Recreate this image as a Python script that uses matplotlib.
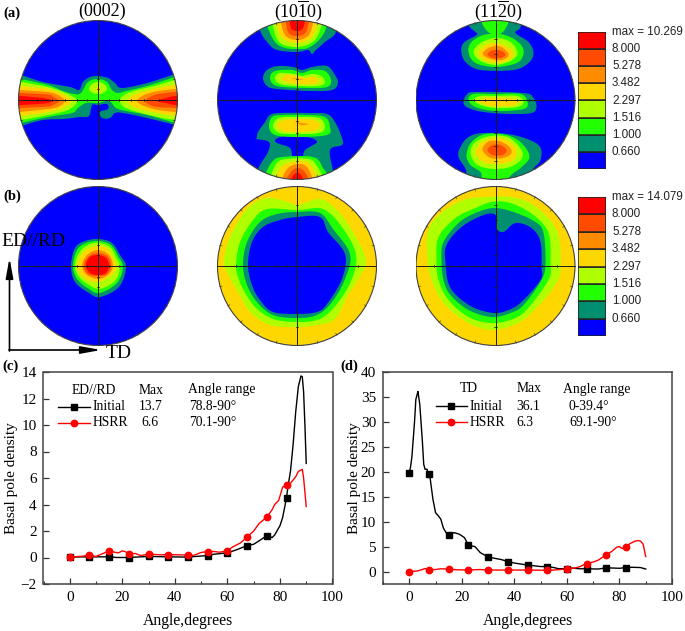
import numpy as np
import matplotlib
matplotlib.use('Agg')
import matplotlib.pyplot as plt
from matplotlib.patches import Circle

plt.rcParams['font.family'] = 'Liberation Serif'
plt.rcParams['mathtext.fontset'] = 'custom'
plt.rcParams['mathtext.rm'] = 'Liberation Serif'

W, H = 685, 631

# contour colours, lowest to highest
BLUE, TEAL, GREEN, YG, GOLD, ORANGE, REDOR, RED = ('#0000ff', '#009070', '#22ff00', '#b0ff00',
                                                   '#ffd700', '#ff8c00', '#ff4b00', '#ff0000')
bar_colors = [RED, REDOR, ORANGE, GOLD, YG, GREEN, TEAL, BLUE]
bar_labels_a = ['max = 10.269', '8.000', '5.278', '3.482', '2.297', '1.516', '1.000', '0.660']
bar_labels_b = ['max = 14.079', '8.000', '5.278', '3.482', '2.297', '1.516', '1.000', '0.660']

# pole figure contours, disc radius = 80
a1_regions = [
    (TEAL, [(-90, 28), (-77, 25), (-55, 18), (-28, 13), (-19, 10), (-15, 18), (-8, 23), (0, 24), (10, 22), (17, 17),
            (24, 12), (49, 17), (77, 26), (90, 30), (90, -30), (77, -25), (49, -18), (25, -13), (17, -13), (12, -18),
            (4, -18), (2, -12), (10, -9), (9, -4), (0, -5), (-6, -5), (-9, -16), (-18, -17), (-35, -19), (-55, -20),
            (-77, -26), (-90, -30)]),
    (GREEN, [(-90, 24), (-77, 21), (-50, 15), (-35, 9), (-24, 6), (-17, 7), (-10, 18), (0, 21), (9, 18), (14, 10),
             (20, 7), (28, 9), (49, 14), (77, 23), (90, 26), (90, -27), (77, -23), (49, -15), (28, -11), (18, -8),
             (11, -1), (0, -3), (-12, -3), (-20, -8), (-26, -13), (-50, -17), (-77, -23), (-90, -26)]),
    (YG, [(-90, 20), (-77, 18), (-50, 13), (-30, 6), (-21, -1), (-30, -10), (-50, -15), (-77, -20), (-90, -22)]),
    (YG, [(90, 22), (77, 20), (60, 15), (30, 7), (22, -1), (30, -9), (60, -17), (77, -20), (90, -22)]),
    (YG, [(-9, 11), (-6, 16), (0, 18), (6, 16), (9, 11), (5, 7), (0, 6), (-5, 7)]),
    (GOLD, [(-90, 16), (-77, 14), (-50, 11), (-35, 6), (-27, -1), (-35, -8), (-50, -12), (-77, -16), (-90, -18)]),
    (GOLD, [(90, 17), (77, 15), (60, 12), (38, 6), (30, -1), (38, -8), (60, -13), (77, -16), (90, -18)]),
    (GOLD, [(-3, 11), (0, 13), (3, 11), (0, 9)]),
    (ORANGE, [(-90, 12), (-77, 10), (-50, 8), (-40, 5), (-33, -1), (-40, -7), (-50, -9), (-77, -12), (-90, -14)]),
    (ORANGE, [(90, 13), (77, 11), (60, 9), (46, 5), (39, -1), (46, -6), (60, -10), (77, -12), (90, -14)]),
    (REDOR, [(-90, 8), (-77, 7), (-50, 5.5), (-45, 3.5), (-39, -1), (-45, -5), (-50, -6.5), (-77, -8), (-90, -10)]),
    (REDOR, [(90, 9), (77, 8), (60, 6), (52, 3), (47, -1), (52, -5), (60, -7), (77, -8), (90, -10)]),
    (RED, [(-90, 5), (-77, 4), (-60, 2.5), (-50, 1), (-46, -1), (-50, -3), (-60, -4), (-77, -5), (-90, -6)]),
    (RED, [(90, 5), (77, 4), (68, 2), (59, -1), (68, -3), (77, -5), (90, -6)]),
]

a2_regions = [
    # top blob
    (TEAL, [(-37, 90), (-37, 70), (-29, 57), (-20, 50), (0, 48), (11, 50), (15, 46), (19, 50), (28, 58), (39, 68), (39, 90)]),
    (GREEN, [(-31, 90), (-30, 75), (-22, 58), (-12, 52), (0, 51), (11, 52), (22, 60), (29, 72), (30, 90)]),
    (YG, [(-26, 90), (-25, 78), (-18, 58), (0, 53), (17, 59), (25, 76), (26, 90)]),
    (GOLD, [(-22, 90), (-21, 80), (-15, 62), (0, 57), (14, 62), (21, 78), (22, 90)]),
    (ORANGE, [(-18, 90), (-17, 82), (-12, 65), (0, 60), (12, 65), (17, 82), (18, 90)]),
    (REDOR, [(-13, 90), (-12, 85), (-9, 68), (0, 64), (9, 68), (13, 85), (14, 90)]),
    (RED, [(-9, 90), (-8, 85), (-6, 72), (0, 69), (6, 72), (9, 85), (10, 90)]),
    # upper middle blob
    (TEAL, [(-34, 22), (-30, 30), (-19, 34), (-4, 33), (5, 30), (15, 33), (30, 34), (38, 25), (41, 17), (35, 10),
            (13, 9), (-20, 11), (-30, 14)]),
    (GREEN, [(-27, 22), (-22, 29), (-5, 30), (5, 27), (15, 30), (28, 29), (34, 20), (30, 13), (10, 12), (-20, 14)]),
    (YG, [(-22, 22), (-17, 27), (-3, 26), (5, 24), (15, 26), (24, 24), (28, 18), (22, 14), (0, 14), (-17, 16)]),
    (GOLD, [(-16, 22), (-10, 25), (0, 24), (7, 22), (17, 23), (22, 19), (17, 16), (0, 16), (-12, 18)]),
    (ORANGE, [(-6, 22), (0, 21.5), (7, 20.5), (0, 20.5)]),
    # lower middle blob with the teal shape joining the bottom blob
    (TEAL, [(-40, -37), (-39, -32), (-32, -22), (-27, -15), (-17, -13), (13, -13), (30, -14), (38, -22), (45, -38),
            (45, -45), (33, -50), (36, -72), (36, -90), (-39, -90), (-39, -70), (-29, -52), (-28, -42), (-40, -39)]),
    (BLUE, [(-21, -39), (-10, -36), (10, -37), (20, -42), (8, -50), (5, -58), (-4, -58), (-7, -48), (-20, -43)]),
    (GREEN, [(-28, -27), (-25, -17), (-15, -15), (10, -15), (28, -17), (33, -27), (30, -35), (0, -37), (-22, -35)]),
    (YG, [(-24, -26), (-18, -18), (0, -17), (22, -18), (28, -27), (22, -33), (0, -34), (-18, -33)]),
    (GOLD, [(-20, -25), (-13, -20), (5, -19), (20, -21), (23, -27), (17, -31), (0, -32), (-14, -31)]),
    (ORANGE, [(-2, -21), (4, -23), (12, -24), (4, -25)]),
    # bottom blob
    (GREEN, [(-35, -85), (-32, -75), (-25, -62), (-15, -57), (16, -57), (26, -68), (32, -85)]),
    (YG, [(-28, -88), (-27, -78), (-20, -63), (-10, -59), (12, -59), (20, -66), (27, -80), (28, -88)]),
    (GOLD, [(-23, -88), (-22, -80), (-15, -66), (0, -61), (12, -63), (22, -80), (23, -88)]),
    (ORANGE, [(-17, -88), (-16, -82), (-10, -69), (0, -64), (10, -67), (17, -82), (18, -88)]),
    (REDOR, [(-13, -88), (-12, -82), (-6, -72), (0, -68), (7, -71), (13, -82), (14, -88)]),
    (RED, [(-9, -88), (-8, -85), (-4, -76), (0, -73), (4, -75), (9, -85), (10, -88)]),
]

a3_regions = [
    # top blob
    (TEAL, [(-27, 90), (-27, 75), (-20, 68), (-19, 65), (-32, 57), (-34, 47), (-29, 37), (-15, 30), (18, 30), (33, 37),
            (38, 47), (33, 58), (20, 67), (25, 73), (25, 90)]),
    (GREEN, [(-14, 90), (-14, 78), (-6, 67), (6, 67), (13, 78), (13, 90)]),
    (GREEN, [(-27, 48), (-24, 58), (-12, 65), (5, 66), (20, 60), (28, 50), (23, 38), (1, 33), (-20, 37)]),
    (YG, [(-22, 48), (-15, 57), (0, 62), (15, 58), (22, 47), (15, 39), (0, 35), (-15, 39)]),
    (GOLD, [(-17, 47), (-10, 55), (2, 57), (14, 52), (18, 45), (12, 39), (0, 37), (-12, 40)]),
    (ORANGE, [(-13, 46), (-7, 52), (3, 54), (11, 49), (13, 44), (6, 40), (-5, 41)]),
    (REDOR, [(-8, 46), (-2, 50), (6, 49), (10, 45), (5, 42), (-3, 42)]),
    # middle band
    (TEAL, [(-32, -3), (-29, 5), (-20, 8), (28, 7), (38, 2), (41, -7), (36, -13), (15, -14), (-12, -12), (-27, -8)]),
    (GREEN, [(-27, 0), (-22, 6), (0, 6), (25, 6), (32, -2), (28, -9), (0, -11), (-20, -7)]),
    (YG, [(-22, 0), (-15, 4), (0, 4), (22, 4), (28, -2), (22, -7), (0, -8), (-15, -5)]),
    (GOLD, [(-16, -1), (-10, 2), (5, 2), (20, 1), (23, -3), (15, -6), (-5, -6), (-12, -4)]),
    # bottom blob
    (TEAL, [(-37, -57), (-35, -47), (-27, -37), (-12, -33), (18, -35), (43, -45), (45, -60), (36, -72), (38, -90),
            (-32, -90), (-29, -72)]),
    (GREEN, [(-29, -55), (-24, -42), (-10, -34), (11, -35), (26, -43), (34, -57), (25, -68), (18, -73), (13, -79),
             (13, -90), (-14, -90), (-14, -79), (-15, -72), (-25, -65)]),
    (YG, [(-25, -53), (-20, -42), (-5, -36), (12, -37), (24, -47), (27, -57), (17, -66), (0, -69), (-18, -65)]),
    (GOLD, [(-20, -52), (-13, -42), (0, -38), (13, -41), (21, -50), (18, -60), (5, -64), (-12, -62)]),
    (ORANGE, [(-13, -50), (-8, -42), (3, -41), (13, -46), (16, -53), (8, -58), (-5, -58)]),
    (REDOR, [(-8, -50), (-3, -45), (5, -45), (11, -50), (7, -55), (-3, -55)]),
]

b1_regions = [
    (TEAL, [(-27, 0), (-23, 18), (-13, 25), (1, 27), (14, 23), (22, 11), (28, -1), (21, -21), (2, -31), (-9, -27), (-23, -16)]),
    (GREEN, [(-25, 0), (-21, 16), (-12, 23), (1, 25), (13, 21), (20, 10), (25, -1), (19, -17), (2, -27), (-9, -23), (-21, -13)]),
    (YG, [(-23, 0), (-19, 13), (-10, 21), (1, 23), (12, 19), (18, 9), (22, -1), (17, -15), (2, -23), (-9, -19), (-19, -11)]),
    (GOLD, [(-21, 0), (-16, 12), (-8, 18), (1, 20), (10, 17), (15, 8), (18, -1), (13, -10), (0, -16), (-10, -14), (-18, -8)]),
    (ORANGE, [(-16, 0), (-11, 11), (0, 16), (11, 11), (15, 0), (10, -9), (0, -13), (-11, -9)]),
    (REDOR, [(-14, 0), (-10, 9), (0, 13), (10, 9), (13, 0), (9, -8), (0, -10), (-10, -8)]),
    (RED, [(-12, 1), (-8, 9), (0, 11), (8, 8), (11, 1), (8, -7), (0, -9), (-8, -7)]),
]

b2_regions = [
    (GOLD, [(-120, -120), (-120, 120), (120, 120), (120, -120)]),
    (YG, [(-73, 4), (-67, 29), (-50, 57), (-30, 68), (-9, 64), (1, 61), (23, 67), (40, 56), (56, 34), (69, 6), (61, -13),
          (51, -29), (38, -53), (20, -59), (0, -61), (-27, -59), (-47, -46), (-59, -26), (-69, -8)]),
    (GREEN, [(-61, 1), (-57, 24), (-44, 46), (-30, 57), (0, 56), (26, 57), (45, 39), (59, 12), (55, -13), (40, -38),
             (23, -53), (0, -56), (-24, -53), (-42, -41), (-54, -23), (-59, -11)]),
    (TEAL, [(-54, 1), (-50, 24), (-37, 44), (-20, 52), (0, 54), (23, 53), (36, 37), (53, 12), (48, -13), (35, -36),
            (20, -49), (0, -52), (-24, -49), (-40, -36), (-50, -19)]),
    (BLUE, [(-49, 1), (-45, 24), (-34, 39), (-17, 46), (0, 49), (23, 49), (31, 34), (48, 12), (45, -13), (30, -38),
            (20, -46), (0, -48), (-24, -46), (-37, -34), (-45, -19)]),
]

b3_regions = [
    (GOLD, [(-120, -120), (-120, 120), (120, 120), (120, -120)]),
    (YG, [(-68, 6), (-67, 36), (-54, 53), (-32, 66), (-9, 69), (15, 69), (38, 61), (61, 36), (65, 3), (61, -17), (36, -47),
          (18, -59), (-5, -64), (-29, -56), (-52, -37), (-64, -14)]),
    (GREEN, [(-59, 6), (-57, 29), (-40, 48), (-20, 58), (-4, 64), (15, 63), (38, 51), (53, 33), (55, 3), (53, -14), (31, -44),
             (15, -54), (-5, -57), (-27, -51), (-47, -34), (-57, -14)]),
    (TEAL, [(-54, 6), (-52, 24), (-37, 43), (-20, 53), (-2, 58), (18, 54), (40, 44), (48, 33), (50, 3), (46, -14), (28, -39),
            (15, -47), (-4, -51), (-27, -44), (-45, -29), (-52, -14)]),
    (BLUE, [(-50, 3), (-49, 21), (-34, 39), (-12, 51), (0, 51), (1, 38), (8, 34), (20, 43), (36, 38), (45, 24), (46, -1),
            (45, -14), (26, -36), (13, -44), (-2, -47), (-25, -40), (-45, -22)]),
]

# basal pole density curves
c_initial_x = [0, 5, 7.5, 10, 15, 18, 22.5, 30, 37.5, 45, 48, 52.5, 55, 60, 63, 65, 67.5, 70, 72, 75, 76, 77, 78, 80, 81,
               82.5, 83, 84, 85, 86, 87, 88, 88.5, 89, 89.5, 90]
c_initial_y = [0.03, 0.05, 0.02, 0.05, 0.05, 0, 0, 0.08, 0.05, 0.03, 0.08, 0.15, 0.25, 0.35, 0.55, 0.7, 0.9, 1, 1.25, 1.65,
               1.6, 1.5, 1.7, 2.4, 3, 4.5, 5.3, 6.5, 8.5, 11, 12.9, 13.7, 13.65, 12.5, 10, 7.1]
c_hsrr_x = [0, 5, 7.5, 10, 12, 15, 17, 18.5, 20, 21, 22.5, 25, 27, 30, 35, 37.5, 42, 45, 47, 50, 52.5, 55, 57, 60, 62, 65,
            67.5, 70, 72, 75, 77, 78, 79.5, 81, 82.5, 84, 86, 87, 88.5, 89, 90]
c_hsrr_y = [0.03, 0.1, 0.18, 0.08, 0.25, 0.5, 0.4, 0.35, 0.5, 0.45, 0.3, 0.3, 0.15, 0.25, 0.2, 0.22, 0.2, 0.18, 0.15, 0.38,
            0.45, 0.45, 0.4, 0.5, 0.8, 1.1, 1.55, 2, 2.55, 3.05, 3.6, 4, 4.3, 5.3, 5.5, 5.6, 6.1, 6.5, 6.65, 6, 3.85]
d_initial_x = [0, 0.5, 1, 1.5, 2, 2.5, 3, 3.3, 4, 5, 5.5, 6, 6.8, 7, 7.5, 8, 9, 10, 11, 12, 13, 14, 15, 16, 17, 19, 21, 22.5,
               24, 25, 27, 30, 32, 35, 37.5, 40, 45, 50, 52.5, 55, 57, 60, 62, 65, 67.5, 72, 75, 80, 82.5, 85, 88, 90]
d_initial_y = [19.7, 21, 23, 26.5, 30, 34.5, 35.5, 36.1, 33.5, 26, 21.5, 20.5, 20.5, 19.7, 19.5, 18.5, 14.5, 11.8, 11.2,
               10.5, 8.7, 7.8, 7.3, 7.5, 7.8, 7.5, 6.8, 5.3, 5.1, 5, 3.8, 2.9, 2.7, 2.4, 2, 1.7, 1.3, 1, 1, 0.8, 0.55, 0.6,
               0.7, 0.55, 0.55, 0.5, 0.75, 0.65, 0.8, 0.85, 0.8, 0.5]
d_hsrr_x = [0, 3, 5, 6, 7.5, 10, 12, 15, 18, 22.5, 27, 30, 37.5, 45, 52.5, 55, 60, 63, 65, 67.5, 70, 72, 75, 77, 79, 80, 81,
            82.5, 84, 86, 87, 88, 89, 90]
d_hsrr_y = [0, 0.1, 0.4, 0.6, 0.35, 0.4, 0.55, 0.5, 0.35, 0.3, 0.4, 0.3, 0.3, 0.3, 0.25, 0.3, 0.5, 0.7, 1, 1.6, 1.9, 2.3, 3.4,
            4, 4.9, 5, 4.6, 4.9, 5.6, 6.1, 6.2, 6.1, 5.5, 3]

# marked points every 7.5 degrees
marker_x = [0, 7.5, 15, 22.5, 30, 37.5, 45, 52.5, 60, 67.5, 75, 82.5]
c_initial_marks = [0.03, 0.02, 0.05, 0, 0.08, 0.05, 0.03, 0.15, 0.35, 0.9, 1.65, 4.5]
c_hsrr_marks = [0.03, 0.18, 0.5, 0.3, 0.25, 0.22, 0.18, 0.45, 0.5, 1.55, 3.05, 5.5]
d_initial_marks = [19.7, 19.5, 7.3, 5.3, 2.9, 2, 1.3, 1, 0.6, 0.55, 0.75, 0.8]
d_hsrr_marks = [0, 0.35, 0.5, 0.3, 0.3, 0.3, 0.3, 0.25, 0.5, 1.6, 3.4, 4.9]


def px_axes(left, top, width, height):
    return fig.add_axes([left / W, 1 - (top + height) / H, width / W, height / H])


def smooth(points, steps=8):
    # closed Catmull-Rom through the read points, just to round the outline
    pts = np.array(points, dtype=float)
    t = np.linspace(0, 1, steps, endpoint=False)[:, None]
    out = []
    for i in range(len(pts)):
        p0, p1, p2, p3 = pts[i - 1], pts[i], pts[(i + 1) % len(pts)], pts[(i + 2) % len(pts)]
        out.append(0.5 * (2 * p1 + (p2 - p0) * t + (2 * p0 - 5 * p1 + 4 * p2 - p3) * t ** 2
                          + (3 * p1 - p0 - 3 * p2 + p3) * t ** 3))
    return np.vstack(out)


def pole_figure(cx, cy, regions):
    ax = px_axes(cx - 80, cy - 80, 160, 160)
    ax.set_xlim(-80, 80)
    ax.set_ylim(-80, 80)
    ax.axis('off')
    disc = Circle((0, 0), 79.5, facecolor=BLUE, edgecolor='none')
    ax.add_patch(disc)
    for color, outline in regions:
        pts = smooth(outline)
        poly = ax.fill(pts[:, 0], pts[:, 1], color=color, lw=0)[0]
        poly.set_clip_path(disc)
    # cross and stereographic ticks every 15 degrees
    ax.plot([-80, 80], [0, 0], color='#1a1a1a', lw=0.7)
    ax.plot([0, 0], [-80, 80], color='#1a1a1a', lw=0.7)
    for deg in range(15, 90, 15):
        r = 80 * np.tan(np.radians(deg) / 2)
        for s in (-1, 1):
            ax.plot([s * r, s * r], [-1.2, 1.2], color='#1a1a1a', lw=0.5)
            ax.plot([-1.2, 1.2], [s * r, s * r], color='#1a1a1a', lw=0.5)
    for deg in range(0, 360, 15):
        a = np.radians(deg)
        ax.plot([77.5 * np.cos(a), 80 * np.cos(a)], [77.5 * np.sin(a), 80 * np.sin(a)], color='#333333', lw=0.4)
    ax.add_patch(Circle((0, 0), 79.5, fill=False, edgecolor='#444444', lw=0.8))


def color_bar(top, height, labels):
    ax = px_axes(578, top, 28, height)
    ax.bar(0.5, [1] * 8, width=1, bottom=np.arange(8), color=bar_colors[::-1], edgecolor='#222222', lw=1.1)
    ax.set_xlim(0, 1)
    ax.set_ylim(0, 8)
    ax.axis('off')
    step = height / 8
    for i, label in enumerate(labels):
        over.text(612, top + i * step, label, family='Liberation Sans', fontsize=8.4, color='#222222', va='center')


def density_chart(left, ylim, yticks, ini_x, ini_y, ini_m, hs_x, hs_y, hs_m, ylab_x):
    ax = px_axes(left, 372, 289, 212)
    ax.plot(ini_x, ini_y, color='black', lw=1)
    ax.plot(hs_x, hs_y, color='#ff0000', lw=1)
    ax.plot(marker_x, ini_m, 's', color='black', ms=3.8, ls='none')
    ax.plot(marker_x, hs_m, 'o', color='#ff0000', ms=4.6, ls='none')
    ax.set_xlim(-10, 100)
    ax.set_ylim(*ylim)
    ax.set_xticks(range(0, 101, 20))
    ax.set_xticks(range(-10, 100, 20), minor=True)
    ax.set_yticks(yticks)
    ax.tick_params(which='major', direction='in', length=4, width=0.9, labelsize=11, pad=5, color='#333333')
    ax.tick_params(which='minor', direction='in', length=2, width=0.8, color='#333333')
    for s in ax.spines.values():
        s.set_linewidth(1.1)
        s.set_color('#444444')
    ax.set_xlabel('Angle,degrees', fontsize=11.3, va='center')
    ax.set_ylabel('Basal pole density', fontsize=11, va='center')
    ax.xaxis.set_label_coords(0.5, -0.175)
    ax.yaxis.set_label_coords(ylab_x, 0.5)


fig = plt.figure(figsize=(W / 100, H / 100), dpi=100)
over = fig.add_axes([0, 0, 1, 1], zorder=10)
over.set_xlim(0, W)
over.set_ylim(H, 0)
over.axis('off')

pole_figure(98, 100, a1_regions)
pole_figure(297, 100, a2_regions)
pole_figure(495.5, 100, a3_regions)
pole_figure(98, 266, b1_regions)
pole_figure(297, 266, b2_regions)
pole_figure(495.5, 266, b3_regions)

color_bar(32, 137, bar_labels_a)
color_bar(197, 139, bar_labels_b)

density_chart(43.5, (-2, 14), range(-2, 15, 2), c_initial_x, c_initial_y, c_initial_marks,
              c_hsrr_x, c_hsrr_y, c_hsrr_marks, -0.109)
density_chart(383, (-2.5, 40), range(0, 41, 5), d_initial_x, d_initial_y, d_initial_marks,
              d_hsrr_x, d_hsrr_y, d_hsrr_marks, -0.10)

# panel titles and letters
for x, title in [(102, '(0002)'), (299, r'$\mathrm{(10\overline{1}0)}$'), (499, r'$\mathrm{(11\overline{2}0)}$')]:
    over.text(x, 11, title, fontsize=13, ha='center', va='center')
for x, y, letter in [(3, 13, '(a)'), (3, 196, '(b)'), (2, 366, '(c)'), (340, 366, '(d)')]:
    over.text(x, y, letter, fontsize=10.5, fontweight='bold', va='center')

# ED//RD and TD arrows
over.text(1, 242, 'ED//RD', fontsize=14, va='center')
over.text(106, 354, 'TD', fontsize=14, va='center')
over.annotate('', xy=(9.5, 258), xytext=(9.5, 351),
              arrowprops=dict(arrowstyle='-|>,head_length=1.2,head_width=0.22', color='black', lw=1.2, shrinkA=0, shrinkB=0))
over.annotate('', xy=(101, 350), xytext=(9, 350),
              arrowprops=dict(arrowstyle='-|>,head_length=1.2,head_width=0.22', color='black', lw=1.2, shrinkA=0, shrinkB=0))

# hand built legend tables
fs = 9.8
for x, y, s in [(72, 390, 'ED//RD'), (139, 390, 'Max'), (188, 390, 'Angle range'),
                (93, 407, 'Initial'), (139, 407, '13.7'), (189, 407, '78.8-90°'),
                (93, 423, 'HSRR'), (141, 423, '6.6'), (189, 423, '70.1-90°'),
                (460, 389, 'TD'), (517, 389, 'Max'), (563, 389, 'Angle range'),
                (470, 406, 'Initial'), (516, 406, '36.1'), (569, 406, '0-39.4°'),
                (470, 422, 'HSRR'), (516, 422, '6.3'), (569, 422, '69.1-90°')]:
    over.text(x, y, s, fontsize=fs, va='center')
for x0, x1, y, color, marker, ms in [(58, 90, 407, 'black', 's', 3.8), (58, 90, 423, '#ff0000', 'o', 4.6),
                                     (436, 467, 406, 'black', 's', 3.8), (436, 467, 422, '#ff0000', 'o', 4.6)]:
    over.plot([x0, x1], [y, y], color=color, lw=1)
    over.plot([(x0 + x1) / 2], [y], marker=marker, color=color, ms=ms)

fig.savefig('out.png', dpi=100)
